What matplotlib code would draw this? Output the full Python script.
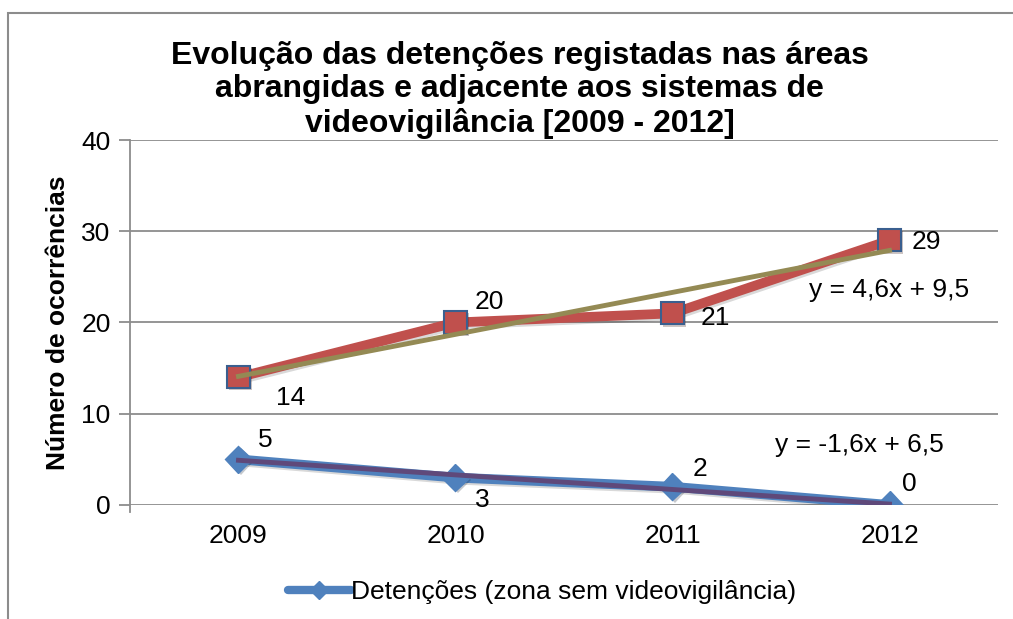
import numpy as np
import matplotlib
matplotlib.use("Agg")
import matplotlib.pyplot as plt
import matplotlib.patheffects as pe
from matplotlib.lines import Line2D

plt.rcParams['font.family'] = ['Liberation Sans', 'DejaVu Sans']

years = ['2009', '2010', '2011', '2012']
com_video = [14, 20, 21, 29]
sem_video = [5, 3, 2, 0]
legend_label = 'Detenções (zona sem videovigilância)'
title = 'Evolução das detenções registadas nas áreas\nabrangidas e adjacente aos sistemas de\nvideovigilância [2009 - 2012]'
ylabel = 'Número de ocorrências'
yticks = [0, 10, 20, 30, 40]

RED = '#C0504D'
BLUE = '#4F81BD'
OLIVE = '#948A54'
PURPLE = '#5F497A'
EDGE = '#3A5F8F'
GRID = '#8C8C8C'

fig = plt.figure(figsize=(10.13, 6.19), dpi=100)
ax = fig.add_axes([0.1283, 0.1842, 0.8569, 0.5896])

x = np.arange(len(years))
xn = x + 1  # Excel trendline x (1..n)

shadow = [pe.SimpleLineShadow(offset=(1.5, -1.5), alpha=0.15, shadow_color='k'), pe.Normal()]

ax.plot(x, com_video, color=RED, lw=7, solid_capstyle='round', zorder=3, path_effects=shadow)
ax.plot(x, sem_video, color=BLUE, lw=7, solid_capstyle='round', zorder=3, path_effects=shadow)

ax.plot(x, com_video, ls='none', marker='s', ms=16, mfc=RED, mec=EDGE, mew=1.5, zorder=4,
        path_effects=[pe.SimplePatchShadow(offset=(1.5, -1.5), alpha=0.25), pe.Normal()])
ax.plot(x, sem_video, ls='none', marker='D', ms=14, mfc=BLUE, mec=BLUE, mew=1, zorder=4,
        path_effects=[pe.SimplePatchShadow(offset=(1.5, -1.5), alpha=0.25), pe.Normal()])

# linear trendlines fitted from the data
p_red = np.polyfit(xn, com_video, 1)
p_blue = np.polyfit(xn, sem_video, 1)
ax.plot(x, np.polyval(p_red, xn), color=OLIVE, lw=3.5, zorder=5)
ax.plot(x, np.polyval(p_blue, xn), color=PURPLE, lw=3.5, zorder=5)

lab_fs = 19
red_offsets = [(52, -21), (34, 20), (43, -5), (37, -2)]
blue_offsets = [(27, 19), (27, -22), (28, 18), (20, 21)]
for xi, v, off in zip(x, com_video, red_offsets):
    ax.annotate(str(v), (xi, v), xytext=off, textcoords='offset pixels',
                ha='center', va='center', fontsize=lab_fs, zorder=6)
for xi, v, off in zip(x, sem_video, blue_offsets):
    ax.annotate(str(v), (xi, v), xytext=off, textcoords='offset pixels',
                ha='center', va='center', fontsize=lab_fs, zorder=6)

def fmt(v):
    return ('%.1f' % v).replace('.', ',')

eq_red = 'y = %sx + %s' % (fmt(p_red[0]), fmt(p_red[1]))
eq_blue = 'y = %sx + %s' % (fmt(p_blue[0]), fmt(p_blue[1]))
ax.annotate(eq_red, (x[-1], np.polyval(p_red, xn[-1])), xytext=(0, -40), textcoords='offset pixels',
            ha='center', va='center', fontsize=lab_fs, zorder=6)
ax.annotate(eq_blue, (x[-1], np.polyval(p_blue, xn[-1])), xytext=(-30, 59), textcoords='offset pixels',
            ha='center', va='center', fontsize=lab_fs, zorder=6)

ax.set_xlim(-0.5, len(years) - 0.5)
ax.set_ylim(0, 40)
ax.set_yticks(yticks)
ax.set_xticks(x)
ax.set_xticklabels(years)
ax.tick_params(axis='x', length=0, labelsize=lab_fs, pad=14)
ax.tick_params(axis='y', length=8, width=1.3, color=GRID, labelsize=lab_fs, pad=6, direction='out')
ax.grid(axis='y', color=GRID, lw=1.3)
ax.set_axisbelow(True)
for s in ['top', 'right', 'bottom']:
    ax.spines[s].set_visible(False)
ax.spines['left'].set_color(GRID)
ax.spines['left'].set_linewidth(1.3)
ax.spines['left'].set_bounds(-0.8, 40)
ax.set_ylim(0, 40)
ax.spines['left'].set_clip_on(False)

ax.set_ylabel(ylabel, fontsize=19, fontweight='bold', labelpad=8)

fig.text(0.513, 0.8546, title, ha='center', va='center', fontsize=23, fontweight='bold',
         linespacing=1.16)

handle = Line2D([], [], color=BLUE, lw=6, solid_capstyle='round', marker='D', ms=9, mfc=BLUE, mec=BLUE)
fig.legend([handle], [legend_label], loc='center', bbox_to_anchor=(0.535, 0.044), frameon=False,
           fontsize=lab_fs, handlelength=2.4, handletextpad=0.0)

# chart area border
fig.patches.append(plt.Rectangle((8 / 1013, -0.05), 1.2, 1 - 13 / 619 + 0.05, transform=fig.transFigure,
                                 fill=False, ec='#8C8C8C', lw=1.5))

fig.savefig('out.png', dpi=100)
